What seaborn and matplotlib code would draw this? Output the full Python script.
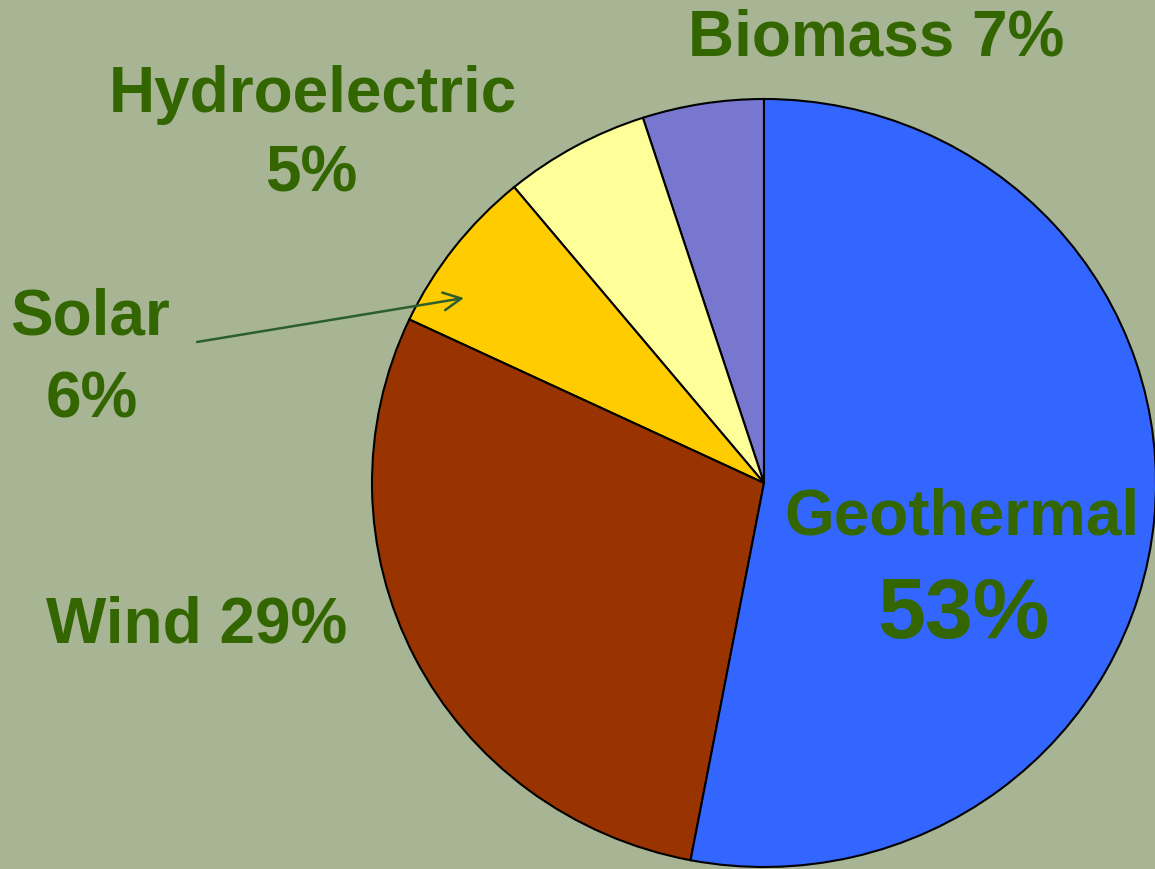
import matplotlib
matplotlib.use("Agg")
import matplotlib.pyplot as plt
import seaborn as sns

# Data (slice sizes as drawn, counterclockwise from 12 o'clock)
categories = ["Biomass", "Hydroelectric", "Solar", "Wind", "Geothermal"]
slice_values = [5, 6, 7, 29, 53]
label_texts = ["Biomass 7%", "Hydroelectric\n5%", "Solar\n6%", "Wind 29%", "Geothermal"]
big_label = "53%"
slice_colors = ["#7777CF", "#FFFF99", "#FFCC00", "#993300", "#3366FF"]

BG = "#A7B595"
TXT = "#336600"

sns.set_theme(style="white")
plt.rcParams["font.family"] = ["Liberation Sans", "DejaVu Sans"]

W, H = 1155, 870
fig = plt.figure(figsize=(W / 100, H / 100), dpi=100, facecolor=BG)
ax = fig.add_axes([0, 0, 1, 1])
ax.set_facecolor(BG)

ax.pie(slice_values, colors=slice_colors, startangle=90, counterclock=True,
       wedgeprops=dict(edgecolor="black", linewidth=1.5))

# pixel geometry of pie: centre (764, 484), rx=392, ry=384
cx, cy, rx, ry = 764, 484, 392, 384
ax.set_aspect("auto")
ax.set_xlim(-cx / rx, (W - cx) / rx)
ax.set_ylim(-(H - cy) / ry, cy / ry)
ax.axis("off")


def fx(x):
    return x / W


def fy(y):
    return 1 - y / H


fs = 46
common = dict(transform=fig.transFigure, color=TXT, fontweight="bold",
              ha="center", va="baseline")
fig.text(fx(876), fy(56), label_texts[0], fontsize=fs, **common)
fig.text(fx(313), fy(112), "Hydroelectric", fontsize=fs, **common)
fig.text(fx(311), fy(192), "5%", fontsize=fs, **common)
fig.text(fx(90), fy(335), "Solar", fontsize=fs, **common)
fig.text(fx(92), fy(418), "6%", fontsize=fs, **common)
fig.text(fx(197), fy(643), label_texts[3], fontsize=fs, **common)
fig.text(fx(962), fy(535), label_texts[4], fontsize=fs, **common)
fig.text(fx(963), fy(638), big_label, fontsize=62, **common)

ax.annotate("", xy=(fx(464), fy(299)), xycoords="figure fraction",
            xytext=(fx(197), fy(343)), textcoords="figure fraction",
            arrowprops=dict(arrowstyle="->", color="#2D5E2D", lw=1.8,
                            mutation_scale=32, shrinkA=0, shrinkB=0))

fig.savefig("out.png", dpi=100, facecolor=BG)
